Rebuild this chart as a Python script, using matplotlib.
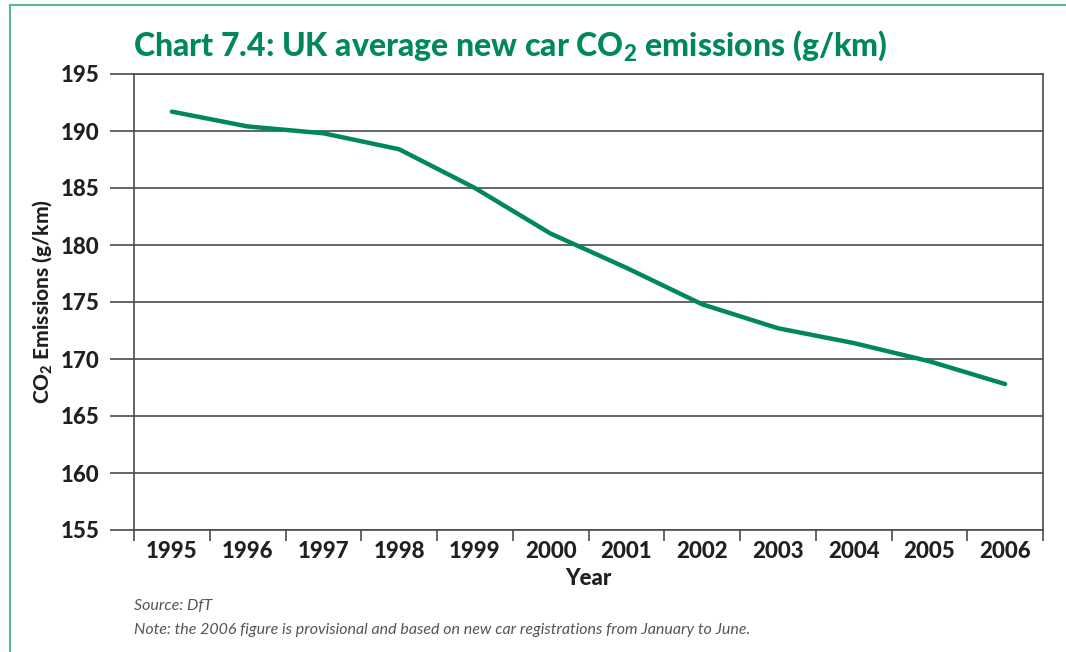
import numpy as np
import matplotlib
matplotlib.use('Agg')
import matplotlib.pyplot as plt

plt.rcParams['font.family'] = ['Lato', 'DejaVu Sans']
plt.rcParams['mathtext.fontset'] = 'custom'
plt.rcParams['mathtext.rm'] = 'Lato'
plt.rcParams['mathtext.bf'] = 'Lato:black'

###############################################################################
# Data
###############################################################################
years = ['1995', '1996', '1997', '1998', '1999', '2000',
         '2001', '2002', '2003', '2004', '2005', '2006']
emissions = [191.7, 190.4, 189.8, 188.4, 185.0, 181.0,
             178.0, 174.8, 172.7, 171.4, 169.8, 167.8]
yticks = [155, 160, 165, 170, 175, 180, 185, 190, 195]

###############################################################################
# Colors
###############################################################################
lnColor = '#00875a'
ttColor = '#00875a'
frColor = '#5bb894'
grColor = '#4a4a4a'
txColor = '#231f20'
WT = 'black'

###############################################################################
# Plot
###############################################################################
fig = plt.figure(figsize=(10.66, 6.52), dpi=100)
ax = fig.add_axes([134/1066, 1-530/652, (1043-134)/1066, (530-74)/652])

x = np.arange(len(years))
ax.plot(x, emissions, color=lnColor, lw=3.2, solid_capstyle='round',
        solid_joinstyle='round', zorder=5)

ax.set_xlim(-0.5, len(years)-0.5)
ax.set_ylim(155, 195)
ax.set_yticks(yticks)
ax.set_yticklabels([str(t) for t in yticks], fontsize=16, fontweight=WT,
                   color=txColor)
ax.set_xticks(x)
ax.set_xticklabels(years, fontsize=16, fontweight=WT, color=txColor)
ax.set_xticks(np.arange(-0.5, len(years)), minor=True)
ax.tick_params(axis='x', which='major', length=0, pad=8)
ax.tick_params(axis='x', which='minor', length=8, width=1.2, color=grColor,
               direction='out')
ax.tick_params(axis='y', which='major', length=17, width=1.2, color=grColor,
               direction='out', pad=8)
ax.grid(axis='y', color=grColor, lw=1.2, zorder=1)
for s in ax.spines.values():
    s.set_color(grColor)
    s.set_linewidth(1.2)

ax.set_xlabel('Year', fontsize=16, fontweight=WT, color=txColor,
              labelpad=4)
ax.set_ylabel(r'CO$_\mathbf{2}$ Emissions (g/km)', fontsize=15,
              fontweight=WT, color=txColor, labelpad=4)

fig.text(133/1066, 1-46/652,
         r'Chart 7.4: UK average new car CO$_\mathbf{2}$ emissions (g/km)',
         fontsize=23, fontweight=WT, color=ttColor,
         ha='left', va='center')
fig.text(134/1066, 1-606/652, 'Source: DfT', fontsize=11.5, style='italic',
         color='#555555', ha='left', va='center')
fig.text(134/1066, 1-630/652,
         'Note: the 2006 figure is provisional and based on new car '
         'registrations from January to June.',
         fontsize=11.5, style='italic', color='#555555', ha='left', va='center')

# green frame
fig.add_artist(plt.Line2D([10/1066, 1], [1-5/652, 1-5/652],
                          color=frColor, lw=1.5, transform=fig.transFigure))
fig.add_artist(plt.Line2D([10/1066, 10/1066], [0, 1-5/652],
                          color=frColor, lw=1.5, transform=fig.transFigure))

fig.savefig('out.png', dpi=100, facecolor='white')
plt.close('all')
